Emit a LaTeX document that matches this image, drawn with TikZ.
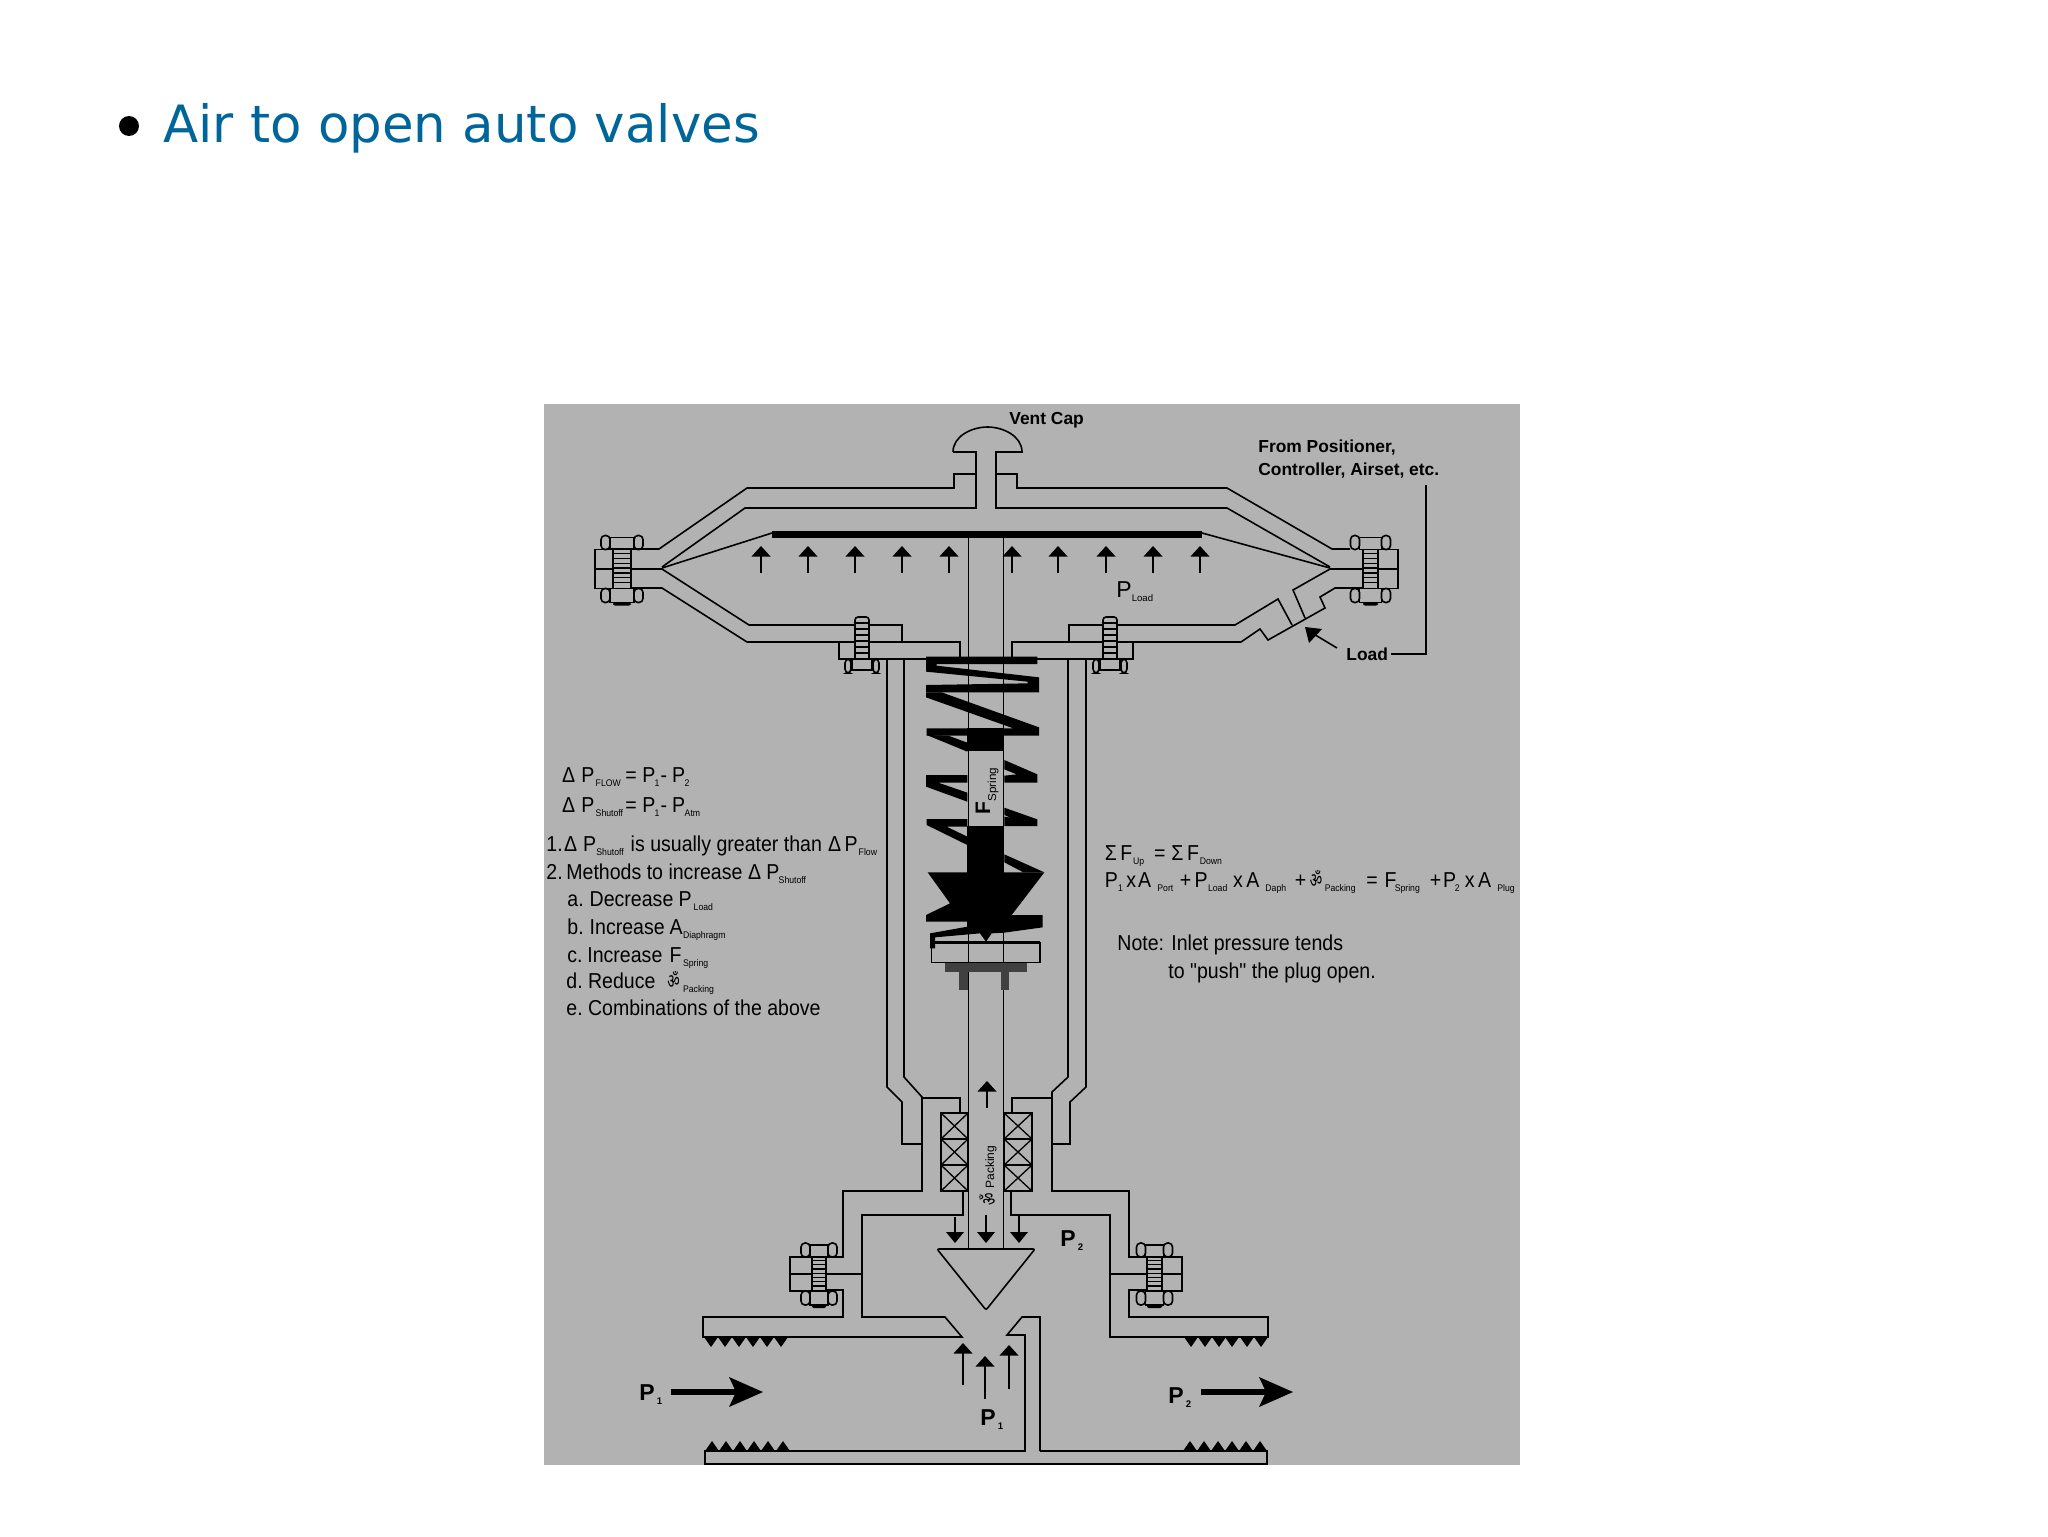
\documentclass[tikz,border=0pt]{standalone}
\usepackage{fontspec}
\setmainfont{Liberation Sans}
\newfontfamily\titlefont{DejaVu Sans}
\newfontfamily\labfont[FakeStretch=0.905]{Liberation Sans}
\newfontfamily\glyphfont[Script=Devanagari]{Noto Sans}
\definecolor{panelgray}{HTML}{B2B2B2}
\definecolor{titleblue}{HTML}{006699}
\definecolor{darkT}{HTML}{404040}
\newcommand{\lo}[1]{\raisebox{-2.2pt}{\fontsize{4.8}{5}\selectfont #1}}
\newcommand{\glitch}{\scalebox{0.8}[1.2]{\glyphfont\fontsize{8.5}{9}\selectfont ॐ}}
\newcommand{\pos}[2]{\rlap{\hspace{\dimexpr #1pt/6\relax}#2}}
\tikzset{
  ln/.style={draw=black,line width=0.8pt,line join=miter},
  thinln/.style={draw=black,line width=0.65pt},
  lab/.style={inner sep=0pt,anchor=base west,text=black,font=\labfont\fontsize{10.8}{12}\selectfont},
  blab/.style={inner sep=0pt,anchor=base west,text=black,font=\fontsize{8.7}{11}\selectfont\bfseries},
  plab/.style={inner sep=0pt,anchor=base west,text=black,font=\fontsize{11.5}{12}\selectfont\bfseries},
  blk/.style={fill=black,draw=none},
}
% valve bolt: x,y,dir,half thread,block extent,half nut,half height
\newcommand{\valvebolt}[7]{%
  \begin{scope}[shift={(#1,#2)},xscale=#3]
    \draw[ln] (-#5,-#7) rectangle (#4,#7);
    \draw[ln] (-#5,0) -- (#4,0);
    \draw[ln,fill=panelgray] (-#4,-#7) rectangle (#4,#7);
    \foreach \k in {-0.8,-0.55,-0.3,-0.05,0.2,0.45,0.7}{\draw[thinln] (-#4,\k*#7) -- (#4,\k*#7);}
    \draw[ln,rounded corners=2pt] (-#6,-#7) rectangle (-#6+9,-#7-14);
    \draw[ln,rounded corners=2pt] (#6,-#7) rectangle (#6-9,-#7-14);
    \draw[ln] (-#6+9,-#7-12) rectangle (#6-9,-#7);
    \draw[ln,rounded corners=2pt] (-#6,#7) rectangle (-#6+9,#7+14);
    \draw[ln,rounded corners=2pt] (#6,#7) rectangle (#6-9,#7+14);
    \draw[ln] (-#6+9,#7) rectangle (#6-9,#7+14);
    \draw[blk,rounded corners=1pt] (-#4,#7+14) rectangle (#4,#7+17);
  \end{scope}}
% stud bolt on the bonnet flange
\newcommand{\studbolt}[1]{%
  \begin{scope}[shift={(#1,659)}]
    \draw[ln,fill=panelgray,rounded corners=1.5pt] (-7,0) -- (-7,-42) -- (7,-42) -- (7,0);
    \foreach \k in {6,12,18,24,30,36}{\draw[thinln] (-7,-\k) -- (7,-\k);}
    \draw[ln,rounded corners=2pt] (-17,0) rectangle (-11,14);
    \draw[ln,rounded corners=2pt] (17,0) rectangle (11,14);
    \draw[ln] (-10,0) rectangle (10,11);
  \end{scope}}
\newcommand{\uparr}[3]{% x tip tail
  \draw[line width=0.8pt] (#1,#3) -- (#1,#2+8);
  \fill[black] (#1,#2) -- (#1+9.5,#2+10.5) -- (#1-9.5,#2+10.5) -- cycle;}
\newcommand{\dnarr}[3]{%
  \draw[line width=0.8pt] (#1,#3) -- (#1,#2-8);
  \fill[black] (#1,#2) -- (#1+9,#2-11) -- (#1-9,#2-11) -- cycle;}
\newcommand{\bigarr}[3]{% tail tip y
  \draw[line width=3pt] (#1,#3) -- (#2-20,#3);
  \fill[black] (#2,#3) -- (#2-34,#3-15) -- (#2-27,#3) -- (#2-34,#3+15) -- cycle;}
\begin{document}
\begin{tikzpicture}[x=0.5pt,y=-0.5pt]
\useasboundingbox (0,0) rectangle (2048,1536);
\fill[white] (0,0) rectangle (2048,1536);
\fill[panelgray] (544,404) rectangle (1520,1465);
% title
\node[circle,fill=black,inner sep=0pt,minimum size=10pt] (bullet) at (129,126) {};
\node[inner sep=0pt,anchor=base west,text=titleblue,font=\titlefont\fontsize{25.7}{30}\selectfont] (title) at (163,142) {Air to open auto valves};
% actuator housing
\draw[ln] (953,452) .. controls (953,436) and (972,427) .. (987.5,427) .. controls (1003,427) and (1022,436) .. (1022,452) -- (996,452) -- (996,508) -- (1227,508) -- (1330,567);
\draw[ln] (953,452) -- (976,452) -- (976,508) -- (745,508) -- (662,567);
\draw[ln] (976,474) -- (954,474) -- (954,488) -- (747,488) -- (659,549) -- (610,549);
\draw[ln] (996,474) -- (1017,474) -- (1017,488) -- (1227,488) -- (1332,549) -- (1350,549);
\fill[black] (772,531) rectangle (1202,538);
\draw[ln] (772,533) -- (662,568);
\draw[ln] (1202,533) -- (1330,568);
% lower casing
\draw[ln] (631,569) -- (662,569) -- (749,625) -- (902,625) -- (902,642);
\draw[ln] (631,588) -- (662,588) -- (747,642) -- (960,642) -- (960,657);
\draw[ln] (839,642) -- (839,659) -- (960,659);
\draw[ln] (1012,657) -- (1012,642) -- (1241,642) -- (1260,629) -- (1268,640) -- (1325,608) -- (1320,597) -- (1335,588) -- (1363,588);
\draw[ln] (1133,642) -- (1133,659) -- (1012,659);
\draw[ln] (1069,642) -- (1069,625) -- (1235,625) -- (1278,599) -- (1292,625);
\draw[ln] (1305,618) -- (1293,590) -- (1330,569) -- (1363,569);
% bolts
\valvebolt{622}{569}{1}{9}{27}{21}{19.5}
\valvebolt{1370.5}{569}{-1}{7.5}{27.5}{20}{19.5}
\valvebolt{819}{1274}{1}{7}{29}{18}{17}
\valvebolt{1154.5}{1274}{-1}{7.5}{27.5}{18}{17}
\studbolt{862}
\studbolt{1110}
% yoke
\draw[ln] (887,659) -- (887,1087) -- (902,1102) -- (902,1144) -- (922,1144);
\draw[ln] (904,659) -- (904,1077) -- (922,1097) -- (922,1191) -- (843,1191) -- (843,1257) -- (826,1257);
\draw[ln] (922,1098) -- (960,1098) -- (960,1113);
\draw[ln] (1086,659) -- (1086,1087) -- (1070,1102) -- (1070,1144) -- (1052,1144);
\draw[ln] (1068,659) -- (1068,1077) -- (1052,1092) -- (1052,1191) -- (1129,1191) -- (1129,1257) -- (1147,1257);
\draw[ln] (1052,1098) -- (1012,1098) -- (1012,1113);
% rod
\draw[ln] (968.5,538) -- (968.5,1249);
\draw[ln] (1003.5,538) -- (1003.5,1249);
% packing
\foreach \xa/\xb in {941/968,1004/1032}{
  \foreach \ya/\yb in {1113/1139,1139/1165,1165/1191}{
    \draw[line width=1pt] (\xa,\ya) rectangle (\xb,\yb);
    \draw[thinln] (\xa,\ya) -- (\xb,\yb) (\xa,\yb) -- (\xb,\ya);
  }}
% body
\draw[ln] (963,1191) -- (963,1215) -- (862,1215) -- (862,1317) -- (945,1317) -- (962,1337) -- (703,1337) -- (703,1317) -- (843,1317) -- (843,1290) -- (826,1290);
\draw[ln] (826,1274) -- (862,1274);
\draw[ln] (1011,1191) -- (1011,1215) -- (1110,1215) -- (1110,1337) -- (1268,1337) -- (1268,1317) -- (1129,1317) -- (1129,1290) -- (1147,1290);
\draw[ln] (1110,1274) -- (1147,1274);
\draw[ln] (1040,1451) -- (1040,1317) -- (1022,1317) -- (1007,1335) -- (1025,1335) -- (1025,1451) -- (705,1451) -- (705,1464) -- (1267,1464) -- (1267,1451) -- (1040,1451);
% plug
\draw[ln,fill=panelgray,rounded corners=1pt] (937,1249) -- (1035,1249) -- (986,1310) -- cycle;
% teeth
\foreach \x in {711,725,739,753,767,781,1191,1205,1219,1232,1247,1261}{\fill[black] (\x-7,1337) -- (\x+7,1337) -- (\x,1347) -- cycle;}
\foreach \x in {712,726,740,754,768,783,1190,1204,1218,1232,1246,1260}{\fill[black] (\x-7,1451) -- (\x+7,1451) -- (\x,1441) -- cycle;}
% small arrows
\foreach \x in {761,808,855,902,949,1012,1058,1106,1153,1200}{\uparr{\x}{546}{573}}
\uparr{987}{1081}{1108}
\dnarr{955}{1243}{1217}
\dnarr{986}{1243}{1215}
\dnarr{1019}{1243}{1216}
\uparr{963}{1343}{1385}
\uparr{985}{1356}{1399}
\uparr{1009}{1345}{1389}
\bigarr{671}{763}{1392}
\bigarr{1201}{1293}{1392}
% spring
\begin{scope}[shift={(880,640)},x=0.16667pt,y=-0.16667pt]
  \fill[black] (138,50) -- (472,50) -- (472,72) -- (170,72) -- (170,77) -- (477,112) -- (477,157) -- (138,157) -- (138,135) -- (443,130) -- (443,125) -- (138,95) -- cycle;
  \fill[black] (138,157) -- (185,157) -- (477,262) -- (477,287) -- (140,287) -- (140,265) -- (400,265) -- (138,172) -- cycle;
  \fill[black] (140,285) -- (205,287) -- (262,308) -- (262,335) -- cycle;
  \fill[black] (262,265) rectangle (373,332);
  \fill[black] (373,360) -- (472,403) -- (472,428) -- (373,428) -- (373,407) -- (410,403) -- (373,388) -- cycle;
  \fill[black] (138,405) -- (262,405) -- (262,428) -- (175,428) -- (262,458) -- (262,485) -- (138,440) -- cycle;
  \fill[black] (373,503) -- (472,538) -- (472,558) -- (373,558) -- (373,530) -- (392,533) -- (373,525) -- cycle;
  \fill[black] (140,537) -- (262,537) -- (262,560) -- (200,560) -- (262,590) -- (262,615) -- (140,555) -- cycle;
  \fill[black] (262,558) rectangle (373,880);
  \fill[black] (373,643) -- (493,697) -- (430,697) -- (373,667) -- cycle;
  \fill[black] (143,697) -- (493,697) -- (395,825) -- (488,825) -- (488,862) -- (372,878) -- (335,880) -- (318,905) -- (300,880) -- (165,892) -- (165,925) -- (150,925) -- (150,880) -- (262,860) -- (262,845) -- (138,845) -- (138,825) -- (210,790) -- cycle;
  \draw[line width=0.8pt] (155,908) rectangle (480,968);
  \draw[line width=1.6pt] (155,908) -- (480,908);
  \fill[darkT] (195,968) rectangle (440,995);
  \fill[darkT] (238,995) rectangle (265,1050);
  \fill[darkT] (363,995) rectangle (388,1050);
\end{scope}
% labels
\node[blab] (vent) at (1009,424) {Vent Cap};
\node[blab] (frompos) at (1258,452) {From Positioner,};
\node[blab] (ctrl) at (1258,475) {Controller, Airset, etc.};
\node[blab] (load) at (1346,660) {Load};
\coordinate (leadertop) at (1426,485);
\coordinate (leaderend) at (1391,654);
\coordinate (loadtip) at (1305,627);
\coordinate (loadtail) at (1337,648);
\draw[line width=0.8pt] (leaderend) -- (1426,654) -- (leadertop);
\draw[line width=0.8pt] (loadtail) -- (1312,633);
\fill[black] (loadtip) -- (1322,629) -- (1309,643) -- cycle;
\node[plab,font=\fontsize{11.5}{12}\selectfont] (pload) at (1116,597) {P\lo{Load}};
\node[lab] (l1) at (540,782) {\pos{62}{Δ}\pos{120}{P}\pos{163}{\lo{FLOW}}\pos{252}{=}\pos{303}{P}\pos{340}{\lo{1}}\pos{358}{-}\pos{392}{P}\pos{430}{\lo{2}}};
\node[lab] (l2) at (540,812) {\pos{62}{Δ}\pos{120}{P}\pos{163}{\lo{Shutoff}}\pos{252}{=}\pos{303}{P}\pos{340}{\lo{1}}\pos{358}{-}\pos{392}{P}\pos{430}{\lo{Atm}}};
\node[lab] (l3) at (540,851.5) {\pos{15}{1.}\pos{68}{Δ}\pos{125}{P}\pos{165}{\lo{Shutoff}}\pos{268}{is usually greater than}\pos{860}{Δ}\pos{910}{P}\pos{952}{\lo{Flow}}};
\node[lab] (l4) at (540,879) {\pos{15}{2.}\pos{75}{Methods to increase}\pos{620}{Δ}\pos{675}{P}\pos{712}{\lo{Shutoff}}};
\node[lab] (l5) at (540,906) {\pos{78}{a.}\pos{145}{Decrease}\pos{412}{P}\pos{457}{\lo{Load}}};
\node[lab] (l6) at (540,934) {\pos{78}{b.}\pos{145}{Increase}\pos{385}{A}\pos{425}{\lo{Diaphragm}}};
\node[lab] (l7) at (540,962) {\pos{78}{c.}\pos{138}{Increase}\pos{385}{F}\pos{425}{\lo{Spring}}};
\node[lab] (l8) at (540,988) {\pos{75}{d.}\pos{140}{Reduce}\pos{378}{\glitch}\pos{425}{\lo{Packing}}};
\node[lab] (l9) at (540,1015) {\pos{75}{e.}\pos{140}{Combinations of the above}};
\node[lab] (r1) at (1090,860) {\pos{40}{Σ}\pos{87}{F}\pos{125}{\lo{Up}}\pos{188}{=}\pos{240}{Σ}\pos{287}{F}\pos{325}{\lo{Down}}};
\node[lab] (r2) at (1090,887) {\pos{40}{P}\pos{80}{\lo{1}}\pos{105}{x}\pos{140}{A}\pos{198}{\lo{Port}}\pos{265}{+}\pos{310}{P}\pos{350}{\lo{Load}}\pos{425}{x}\pos{465}{A}\pos{522}{\lo{Daph}}\pos{610}{+}\pos{655}{\glitch}\pos{700}{\lo{Packing}}\pos{825}{=}\pos{880}{F}\pos{910}{\lo{Spring}}\pos{1015}{+}\pos{1055}{P}\pos{1090}{\lo{2}}\pos{1120}{x}\pos{1160}{A}\pos{1218}{\lo{Plug}}};
\node[lab] (r3) at (1117,950) {Note: Inlet pressure tends};
\node[lab] (r4) at (1168,978) {to "push" the plug open.};
\node[plab] (p2a) at (1060,1246) {P\hspace{1pt}\lo{2}};
\node[plab] (p1a) at (639,1400) {P\hspace{1pt}\lo{1}};
\node[plab] (p2b) at (1168,1403) {P\hspace{1pt}\lo{2}};
\node[plab] (p1b) at (980,1425) {P\hspace{1pt}\lo{1}};
\node[inner sep=0pt,anchor=base west,rotate=90,font=\fontsize{10.5}{12}\selectfont\bfseries] (fspring) at (990,815) {F};
\node[inner sep=0pt,anchor=base west,rotate=90,font=\fontsize{5.8}{7}\selectfont] (fsub) at (996,802) {Spring};
\node[inner sep=0pt,anchor=base west,rotate=90,font=\fontsize{6}{7}\selectfont] (packsub) at (994,1189) {Packing};
\node[inner sep=0pt,anchor=base west,rotate=90] (packglyph) at (996,1206) {\glitch};
\end{tikzpicture}
\end{document}
